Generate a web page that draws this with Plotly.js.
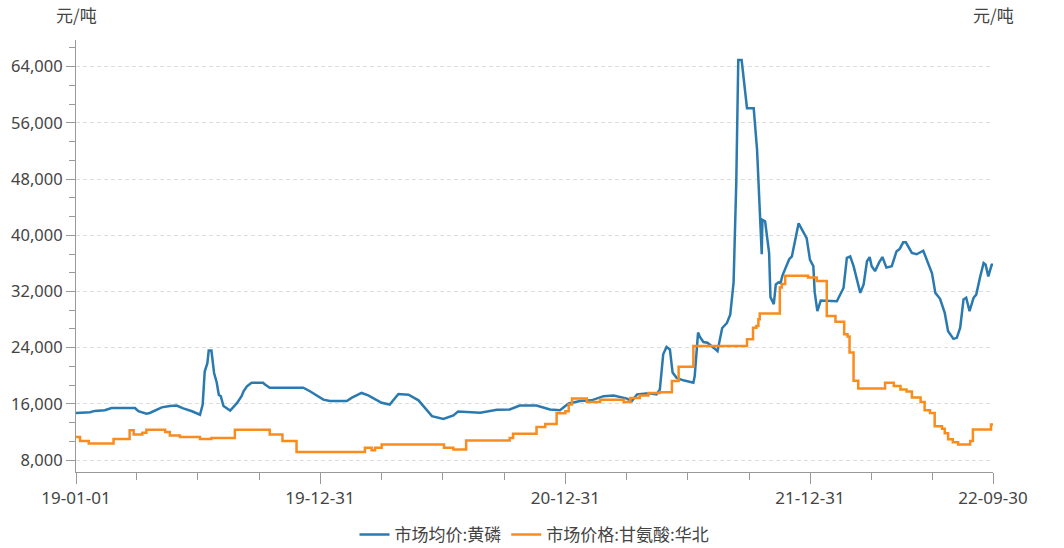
<!DOCTYPE html>
<html>
<head>
<meta charset="utf-8">
<script src="https://cdn.plot.ly/plotly-3.0.1.min.js"></script>
<style>
  html, body { margin: 0; padding: 0; background: #ffffff; }
  #chart { width: 1064px; height: 548px; }
</style>
</head>
<body>
<div id="chart"></div>
<script>
// ---------- data ----------
const seriesNames = ['市场均价:黄磷', '市场价格:甘氨酸:华北'];
const unitLabel = '元/吨';

const phosphorusDates = [
'2019-01-01','2019-01-22','2019-01-29','2019-02-13','2019-02-23','2019-03-30','2019-04-04','2019-04-16','2019-04-21','2019-05-09',
'2019-05-21','2019-05-31','2019-06-10','2019-06-23','2019-07-05','2019-07-09','2019-07-12','2019-07-16','2019-07-18','2019-07-22',
'2019-07-26','2019-07-30','2019-08-02','2019-08-05','2019-08-09','2019-08-19','2019-08-29','2019-09-05','2019-09-08','2019-09-13',
'2019-09-20','2019-10-07','2019-10-10','2019-10-17','2019-12-06','2019-12-16',
'2020-01-05','2020-01-15','2020-02-09','2020-02-16','2020-03-02','2020-03-12','2020-04-01','2020-04-13','2020-04-26','2020-05-11',
'2020-05-26','2020-06-15','2020-07-02','2020-07-17','2020-07-24','2020-08-26','2020-09-20','2020-10-09','2020-10-24','2020-11-18',
'2020-12-08','2020-12-23','2020-12-31',
'2021-01-05','2021-01-22','2021-02-08','2021-02-26','2021-03-13','2021-04-02','2021-04-09','2021-04-17','2021-05-04','2021-05-16',
'2021-05-21','2021-05-26','2021-05-31','2021-06-05','2021-06-09','2021-06-15','2021-06-25','2021-07-10','2021-07-12','2021-07-17',
'2021-07-20','2021-07-25','2021-07-31','2021-08-09','2021-08-15','2021-08-22','2021-08-29','2021-09-03','2021-09-08','2021-09-12',
'2021-09-15','2021-09-20','2021-09-28','2021-10-08','2021-10-13','2021-10-20','2021-10-21','2021-10-25','2021-10-31','2021-11-02',
'2021-11-07','2021-11-10','2021-11-14','2021-11-17','2021-11-20','2021-11-30','2021-12-04','2021-12-14','2021-12-19','2021-12-26',
'2021-12-31',
'2022-01-05','2022-01-07','2022-01-11','2022-01-16','2022-02-09','2022-02-19','2022-02-24','2022-03-01','2022-03-06','2022-03-16',
'2022-03-21','2022-03-26','2022-03-30','2022-04-02','2022-04-07','2022-04-13','2022-04-18','2022-04-24','2022-05-02','2022-05-09',
'2022-05-14','2022-05-19','2022-05-23','2022-06-01','2022-06-08','2022-06-18','2022-06-23','2022-07-01','2022-07-06','2022-07-13',
'2022-07-20','2022-07-25','2022-08-02','2022-08-07','2022-08-12','2022-08-17','2022-08-21','2022-08-26','2022-09-01','2022-09-05',
'2022-09-11','2022-09-16','2022-09-19','2022-09-23','2022-09-28','2022-09-30'];

const phosphorusValues = [
14700,14800,15000,15100,15400,15400,14950,14600,14700,15500,
15700,15750,15350,14950,14450,15900,20600,21800,23600,23600,
20400,19000,17300,17100,15700,15050,16100,17100,17800,18500,
19000,19000,18750,18300,18300,17800,
16600,16400,16400,16850,17550,17200,16150,15900,17400,17300,
16500,14250,13850,14350,14900,14750,15150,15200,15750,15750,
15200,15100,15700,
16050,16400,16500,17100,17200,16750,16400,17350,17500,17350,
18050,23050,24100,23750,20450,19700,19350,19000,19950,26150,
25500,24800,24700,24000,23500,26800,27500,28700,33300,47500,
64950,64950,58100,58100,52200,37300,42200,42000,37500,31200,
30200,33000,33300,33200,34300,36600,37000,41700,40800,39600,
36500,
35600,31900,29200,30700,30600,32500,36800,37000,35600,31800,
33000,36300,36900,35600,34900,36100,36900,35400,35600,37700,
38100,39000,39000,37500,37300,37800,36500,34600,31800,30950,
28950,26350,25250,25400,26800,30850,31100,29200,31100,31550,
34150,36050,35800,34150,35800,35800];

const glycineDates = [
'2019-01-01','2019-01-07','2019-01-20','2019-02-26','2019-03-22','2019-03-28','2019-04-10','2019-04-16','2019-05-14','2019-05-21',
'2019-06-05','2019-07-05','2019-07-22','2019-08-26','2019-10-17','2019-11-05','2019-11-26',
'2020-03-07','2020-03-17','2020-03-22','2020-04-01','2020-07-03','2020-07-17','2020-08-05','2020-10-09','2020-10-14','2020-11-18',
'2020-12-01','2020-12-18','2020-12-31',
'2021-01-05','2021-01-10','2021-02-01','2021-02-21','2021-03-28','2021-04-07','2021-04-21','2021-05-04','2021-05-21','2021-06-08',
'2021-06-18','2021-07-10','2021-09-28','2021-10-07','2021-10-12','2021-10-15','2021-10-17','2021-11-16','2021-11-19','2021-11-24',
'2021-12-28',
'2022-01-10','2022-01-25','2022-02-07','2022-02-20','2022-02-25','2022-02-28','2022-03-06','2022-03-13','2022-04-22','2022-05-05',
'2022-05-15','2022-05-24','2022-06-01','2022-06-14','2022-06-20','2022-06-28','2022-07-05','2022-07-16','2022-07-20','2022-07-25',
'2022-08-01','2022-08-09','2022-08-27','2022-08-31','2022-09-27','2022-09-30'];

const glycineValues = [
11300,10700,10350,11000,12250,11650,11900,12300,12000,11500,
11300,11000,11150,12300,11650,10700,9150,
9750,9400,9750,10200,9750,9500,10800,11150,11750,12700,
13150,14650,14950,
15900,16750,16250,16600,16250,16850,17200,17550,17650,19250,
21300,24250,25200,26850,27100,28050,28850,32550,33050,34250,
34000,
33500,28500,27700,25900,25600,23300,19300,18200,19000,18550,
18050,17750,16900,16250,15100,14700,12800,12450,11800,10950,
10550,10200,10700,12350,13050,13050];

const xTickVals = ['2019-01-01','2019-12-31','2020-12-31','2021-12-31','2022-09-30'];
const xTickText = ['19-01-01','19-12-31','20-12-31','21-12-31','22-09-30'];
const xMinorVals = ['2019-04-01','2019-07-01','2019-10-01','2020-04-01','2020-07-01','2020-10-01',
                    '2021-04-01','2021-07-01','2021-10-01','2022-04-01','2022-07-01'];
const yTickVals = [8000,16000,24000,32000,40000,48000,56000,64000];

// ---------- chart ----------
const blue = '#2a7ab0';
const orange = '#fa8c1e';
const textColor = '#444444';
const axisColor = '#999999';
const fontFamily = '"Noto Sans", "Noto Sans CJK SC", sans-serif';
const cjkFamily = '"Noto Sans CJK SC", "Noto Sans", sans-serif';
const yRange = [6300, 67800];

const traces = [
  {
    x: phosphorusDates, y: phosphorusValues, name: seriesNames[0],
    type: 'scatter', mode: 'lines',
    line: {color: blue, width: 2.5},
    hoverinfo: 'skip'
  },
  {
    x: glycineDates, y: glycineValues, name: seriesNames[1],
    type: 'scatter', mode: 'lines',
    line: {color: orange, width: 2.5, shape: 'hv'},
    hoverinfo: 'skip'
  }
];

const yCommon = {
  range: yRange,
  tickmode: 'array',
  tickvals: yTickVals,
  tickformat: ',d',
  ticks: 'outside',
  ticklen: 9,
  tickwidth: 1,
  tickcolor: axisColor,
  showline: true,
  linecolor: axisColor,
  linewidth: 1,
  zeroline: false,
  automargin: false,
  tickfont: {family: fontFamily, size: 16.5, color: textColor},
  minor: {tickmode: 'linear', tick0: 0, dtick: 8000/3, ticks: 'outside', ticklen: 6, tickcolor: axisColor, showgrid: false},
  fixedrange: true
};

const layout = {
  width: 1064,
  height: 548,
  margin: {l: 76, r: 71, t: 40, b: 76},
  paper_bgcolor: '#ffffff',
  plot_bgcolor: '#ffffff',
  font: {family: fontFamily, size: 16, color: textColor},
  showlegend: true,
  legend: {
    orientation: 'h', xref: 'paper', x: 0.5, xanchor: 'center',
    yref: 'container', y: 0.024, yanchor: 'middle',
    font: {family: cjkFamily, size: 17, color: textColor},
    itemwidth: 30
  },
  xaxis: {
    type: 'date',
    range: ['2019-01-01', '2022-09-30'],
    tickmode: 'array',
    tickvals: xTickVals,
    ticktext: xTickText,
    ticks: 'outside',
    ticklen: 11,
    tickwidth: 1,
    tickcolor: axisColor,
    showline: true,
    linecolor: axisColor,
    linewidth: 1,
    showgrid: false,
    zeroline: false,
    automargin: false,
    tickfont: {family: fontFamily, size: 17, color: textColor},
    minor: {tickmode: 'array', tickvals: xMinorVals, ticks: 'outside', ticklen: 7, tickcolor: axisColor, showgrid: false},
    fixedrange: true
  },
  yaxis: Object.assign({}, yCommon, {
    side: 'left',
    showgrid: true,
    gridcolor: '#dddddd',
    gridwidth: 1,
    griddash: '4px,3px'
  }),
  yaxis2: Object.assign({}, yCommon, {
    side: 'right',
    overlaying: 'y',
    showgrid: false
  }),
  annotations: [
    {text: unitLabel, xref: 'paper', yref: 'paper', x: 0, y: 1.058, xanchor: 'center', yanchor: 'middle',
     showarrow: false, font: {family: cjkFamily, size: 17, color: textColor}},
    {text: unitLabel, xref: 'paper', yref: 'paper', x: 1, y: 1.058, xanchor: 'center', yanchor: 'middle',
     showarrow: false, font: {family: cjkFamily, size: 17, color: textColor}}
  ]
};

Plotly.newPlot('chart', traces, layout, {displayModeBar: false, staticPlot: true});
</script>
</body>
</html>
